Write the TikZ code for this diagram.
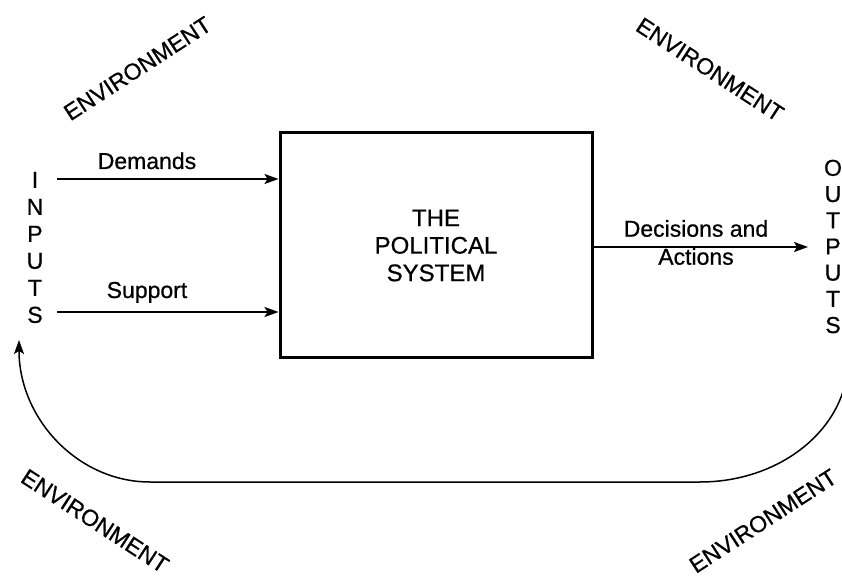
\documentclass[tikz,border=0pt]{standalone}
\usepackage{fontspec}
\setmainfont{Liberation Sans}[FakeBold=0.7]
\usetikzlibrary{arrows.meta}
\begin{document}
\begin{tikzpicture}[x=1pt,y=1pt,
  lbl/.style={font=\fontsize{23}{28}\selectfont, inner sep=0pt, anchor=base},
  env/.style={font=\fontsize{23}{27}\selectfont, inner sep=0pt},
  arr/.style={line width=1.8pt, -{Stealth[length=14pt,width=10pt,inset=3pt]}},
  fb/.style={line width=1.5pt, -{Stealth[length=14pt,width=10pt,inset=3pt]}},
  sysbox/.style={draw, line width=3pt, minimum width=312pt, minimum height=225pt, align=center, font=\fontsize{24}{27.5}\selectfont},
  letters/.style={align=center, inner sep=0pt}
]
\useasboundingbox (0,0) rectangle (842,578);
\clip (0,0) rectangle (842,578);

% central box
\node[sysbox] (sys) at (436,332.5) {THE\\POLITICAL\\SYSTEM};

% inputs / outputs
\node[letters, font=\fontsize{23}{27}\selectfont] (inputs) at (35,330.5) {I\\N\\P\\U\\T\\S};
\node[letters, font=\fontsize{23}{26.2}\selectfont] (outputs) at (833,331.5) {O\\U\\T\\P\\U\\T\\S};

% input arrows
\coordinate (dstart) at (57,399);
\coordinate (sstart) at (57,266);
\draw[arr] (dstart) -- (dstart -| sys.west);
\draw[arr] (sstart) -- (sstart -| sys.west);
\node[lbl] (dem) at (147,409) {Demands};
\node[lbl] (sup) at (147,280) {Support};

% output arrow
\coordinate (dend) at (808,331);
\draw[arr] (dend -| sys.east) -- (dend);
\node[lbl, align=center, anchor=center] (dec) at (696,335.5) {Decisions and\\Actions};

% feedback loop
\coordinate (fbstart) at (848,218);
\coordinate (fbmid) at (150,96);
\draw[fb] (fbstart) arc[start angle=0, end angle=-90, x radius=148, y radius=122]
  -- (fbmid) arc[start angle=270, end angle=180, x radius=131, y radius=142];

% environment labels
\node[env, rotate=33] (envtl) at (137.5,509.5) {ENVIRONMENT};
\node[env, rotate=-33] (envtr) at (710,508.5) {ENVIRONMENT};
\node[env, rotate=-33] (envbl) at (95,57) {ENVIRONMENT};
\node[env, rotate=33] (envbr) at (763,57) {ENVIRONMENT};
\end{tikzpicture}
\end{document}
